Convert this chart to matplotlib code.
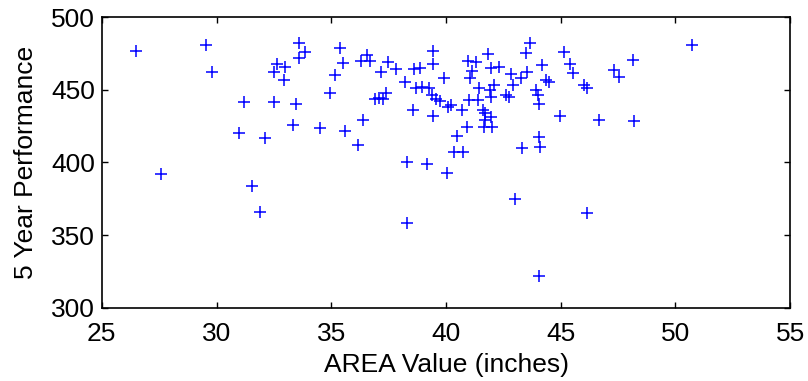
import matplotlib
matplotlib.use("Agg")
import matplotlib.pyplot as plt
import numpy as np

# AREA value (inches) vs 5 year performance
area = [26.5, 27.6, 29.55, 29.8, 31.0, 31.2, 31.55, 31.9, 32.1, 32.5,
        32.5, 32.65, 33.0, 32.95, 33.6, 33.85, 33.6, 33.45, 33.35, 34.5,
        34.95, 35.15, 35.4, 35.5, 35.6, 36.15, 36.4, 36.3, 36.55, 36.7,
        36.9, 37.1, 37.25, 37.4, 37.15, 37.45, 37.8, 38.2, 38.6, 38.85,
        38.3, 38.3, 38.55, 38.7, 38.95, 39.15, 39.4, 39.55, 39.45, 39.45,
        39.45, 39.9, 40.05, 40.1, 40.2, 40.35, 40.75, 40.5, 40.7, 40.9,
        40.95, 41.3, 41.05, 41.15, 41.0, 41.4, 41.45, 41.6, 41.7, 41.7,
        41.95, 41.65, 42.0, 41.85, 41.95, 42.3, 41.9, 41.95, 42.1, 42.6,
        42.75, 42.85, 42.9, 43.25, 43.55, 43.65, 43.5, 44.2, 44.35, 44.5,
        43.9, 44.0, 44.05, 43.3, 44.05, 44.1, 43.0, 44.05, 44.95, 45.15,
        45.4, 45.55, 46.0, 46.15, 46.15, 46.65, 47.33, 47.55, 48.13, 48.2,
        50.7, 39.25, 39.75]
perf = [477, 392, 481, 462, 420, 441.5, 384, 366, 417, 441.5,
        462, 467.5, 466, 456.7, 482.5, 476, 472, 440, 426, 424,
        447.5, 460.5, 479, 468.5, 421.5, 412, 429, 469.5, 474, 469.5,
        444, 444.5, 443.5, 447.5, 462.4, 469.3, 464, 455.5, 464, 464.7,
        400.3, 358.2, 436, 451, 452, 399.2, 446.4, 444, 476.5, 468,
        432, 458, 393, 438.4, 439.5, 407.4, 407.4, 418, 436, 424.6,
        469.5, 469.3, 458, 463, 443, 443, 451, 436, 433.8, 429,
        431, 424.6, 424.6, 474.5, 464.7, 466, 449.8, 445.2, 453, 446.4,
        445.2, 461, 453.3, 458, 462.4, 482, 475.5, 467, 457, 455.5,
        449.8, 446.4, 440, 410.2, 417.7, 411, 374.7, 322, 432, 475.8,
        468, 461.8, 453.3, 451, 365.2, 429.5, 463.6, 459, 470.4, 428.5,
        481, 451.5, 442]

xticks = [25, 30, 35, 40, 45, 50, 55]
yticks = [300, 350, 400, 450, 500]

plt.rcParams['font.family'] = ['Liberation Sans', 'DejaVu Sans']

fig = plt.figure(figsize=(8.08, 3.81), dpi=100)
ax = fig.add_axes([0.126, 0.192, 0.852, 0.763])

ax.plot(area, perf, linestyle='none', marker='+', color='#0000ff',
        markersize=9, markeredgewidth=1.1)

ax.set_xlim(25, 55)
ax.set_ylim(300, 500)
ax.set_xticks(xticks)
ax.set_yticks(yticks)
ax.tick_params(direction='in', top=True, right=True, length=4,
               width=1, labelsize=19)
ax.tick_params(axis='x', pad=10)
ax.tick_params(axis='y', pad=5)
for sp in ax.spines.values():
    sp.set_linewidth(1.2)

ax.set_xlabel('AREA Value (inches)', fontsize=19, labelpad=5)
ax.set_ylabel('5 Year Performance', fontsize=19, labelpad=9)

fig.savefig('out.png', dpi=100)
